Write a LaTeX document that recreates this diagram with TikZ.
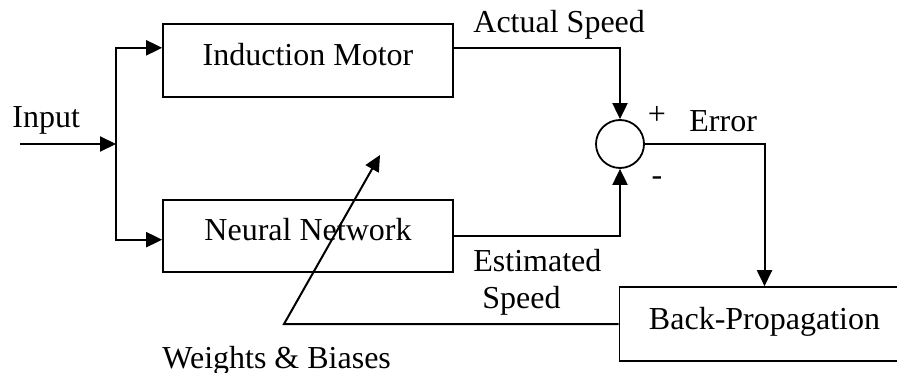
\documentclass[tikz,border=0pt]{standalone}
\usepackage{fontspec}
\setmainfont{Liberation Serif}
\usepackage{tikz}
\usetikzlibrary{arrows.meta, positioning, calc}

\begin{document}
\begin{tikzpicture}[
    x=0.5pt, y=-0.5pt,
    font=\fontsize{16pt}{19pt}\selectfont,
    block/.style={rectangle, draw=black, line width=0.8pt, minimum width=145pt, minimum height=36.5pt, text height=11pt, text depth=6pt, inner sep=0pt},
    sumnode/.style={circle, draw=black, line width=0.9pt, minimum size=24pt, inner sep=0pt},
    sig/.style={-{Triangle[length=8pt, width=7.5pt]}, line width=1pt},
    tag/.style={inner sep=0pt, anchor=base west},
  ]
  \useasboundingbox (0,0) rectangle (897,373);
  \clip (0,0) rectangle (897,373);

  \node[block] (motor) at (308,60.5) {Induction Motor};
  \node[block, minimum height=36pt] (network) at (308,236) {Neural Network};
  \node[sumnode] (sum) at (620,144) {};
  \node[block, minimum height=37pt] (backprop) at (764.5,324) {Back-Propagation};

  \coordinate (in) at (20,144);
  \coordinate (split) at (116,144);
  \coordinate (wb) at (284,324);
  \coordinate (wbtip) at (380,155);

  \node[tag] (lblinput) at (12,128) {Input};
  \node[tag] (lblactual) at (473,33) {Actual Speed};
  \node[tag] (lblerror) at (689,132) {Error};
  \node[inner sep=0pt] (lblplus) at (657,115) {+};
  \node[inner sep=0pt] (lblminus) at (657,181) {-};
  \node[tag] (lblestim) at (473,271) {Estimated};
  \node[tag] (lblspeed) at (482,308) {Speed};
  \node[tag] (lblweights) at (162,368) {Weights \& Biases};

  \draw[sig] (in) -- (split);
  \draw[sig] (split) |- ($(motor.north west)!0.33!(motor.south west)$);
  \draw[sig] (split) |- ($(network.north west)!0.55!(network.south west)$);
  \draw[sig] ($(motor.north east)!0.33!(motor.south east)$) -| (sum.north);
  \draw[sig] (network.east) -| (sum.south);
  \draw[sig] (sum.east) -| (backprop.north);
  \draw[sig] (backprop.west) -- (wb) -- (wbtip);
\end{tikzpicture}
\end{document}
